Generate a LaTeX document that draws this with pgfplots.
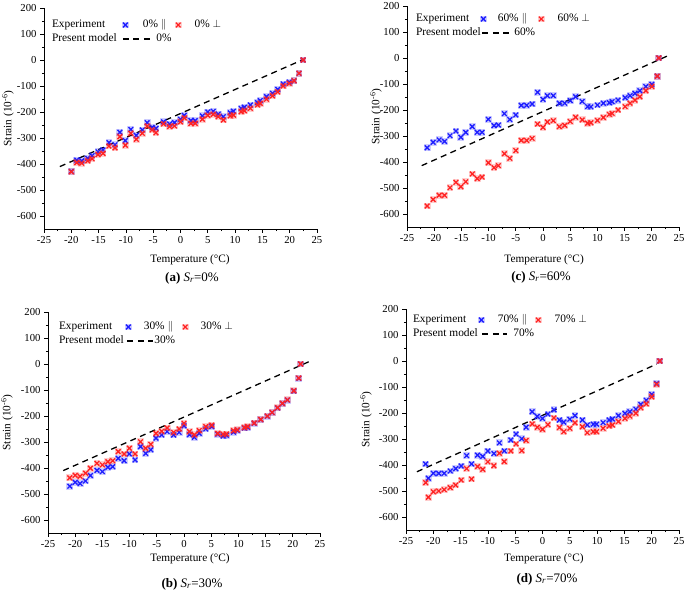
\documentclass[border=0pt]{standalone}
\usepackage{fontspec}
\setmainfont{Liberation Serif}
\usepackage{pgfplots}
\usepackage{pgfplotstable}
\pgfplotsset{compat=1.18}
\definecolor{bl}{RGB}{30,30,255}
\definecolor{rd}{RGB}{255,35,35}

\pgfdeclareplotmark{hx}{%
  \pgfpathrectangle{\pgfqpoint{-1.45\pgfplotmarksize}{-1.45\pgfplotmarksize}}{\pgfqpoint{2.9\pgfplotmarksize}{2.9\pgfplotmarksize}}%
  \pgfsetfillopacity{0.22}\pgfusepath{fill}%
  \pgfsetfillopacity{1}%
  \pgfpathmoveto{\pgfqpoint{-\pgfplotmarksize}{-\pgfplotmarksize}}\pgfpathlineto{\pgfqpoint{\pgfplotmarksize}{\pgfplotmarksize}}%
  \pgfpathmoveto{\pgfqpoint{-\pgfplotmarksize}{\pgfplotmarksize}}\pgfpathlineto{\pgfqpoint{\pgfplotmarksize}{-\pgfplotmarksize}}%
  \pgfusepathqstroke}

\pgfplotstableread{
T par perp
-20.0 -428 -430
-19.0 -385 -395
-18.1 -388 -397
-17.0 -378 -388
-16.2 -368 -380
-15.1 -353 -364
-14.2 -346 -359
-13.1 -318 -331
-12.0 -326 -338
-11.1 -278 -295
-10.1 -310 -328
-9.1 -267 -282
-8.1 -290 -305
-7.0 -269 -282
-6.1 -241 -254
-5.2 -259 -269
-4.5 -263 -280
-3.1 -238 -246
-2.0 -246 -256
-1.1 -241 -254
0.0 -228 -238
0.7 -213 -223
1.9 -233 -244
2.7 -233 -244
4.0 -215 -228
5.0 -200 -213
6.0 -197 -209
6.9 -208 -218
7.85 -218 -231
9.1 -203 -215
9.7 -197 -212
11.1 -186 -199
11.7 -182 -195
12.8 -173 -186
14.1 -164 -173
14.6 -156 -167
15.75 -141 -151
16.85 -128 -138
17.8 -113 -123
18.8 -92 -100
19.9 -85 -90
20.8 -80 -80
21.7 -51 -51
22.45 0 0
}\dataA

\pgfplotstableread{
T par perp
-21.0 -470 -438
-20.0 -455 -428
-19.1 -460 -432
-18.1 -450 -420
-17.2 -429 -401
-16.0 -409 -382
-15.0 -414 -388
-14.0 -397 -376
-13.1 -395 -372
-12.1 -363 -337
-11.0 -372 -346
-10.05 -346 -324
-9.0 -369 -346
-8.0 -318 -299
-7.05 -344 -324
-6.1 -330 -309
-5.15 -285 -267
-4.1 -273 -259
-3.1 -260 -246
-1.9 -273 -263
-0.9 -263 -250
0.0 -238 -228
1.0 -272 -260
1.9 -282 -272
2.8 -267 -256
4.0 -250 -241
5.1 -241 -235
6.2 -270 -267
7.2 -277 -270
7.8 -274 -269
9.1 -262 -256
9.8 -256 -253
11.1 -246 -244
11.7 -244 -240
12.9 -228 -227
14.1 -214 -213
15.3 -201 -200
16.2 -187 -186
17.2 -169 -168
18.1 -152 -151
19.0 -139 -138
20.2 -104 -103
21.1 -55 -54
21.45 0 0
}\dataB

\pgfplotstableread{
T par perp
-21.3 -345 -569
-20.2 -324 -544
-19.1 -315 -528
-18.1 -321 -528
-17.1 -299 -499
-16.0 -281 -478
-15.1 -305 -495
-14.2 -286 -476
-13.0 -264 -446
-12.1 -286 -464
-11.2 -286 -458
-10.05 -236 -403
-9.0 -260 -422
-8.2 -258 -414
-7.1 -214 -368
-6.1 -237 -386
-5.0 -219 -356
-4.0 -182 -317
-3.0 -182 -317
-2.0 -177 -309
-1.0 -132 -254
0.0 -159 -267
0.8 -145 -246
1.9 -145 -241
3.0 -174 -264
4.0 -174 -259
5.0 -164 -244
6.0 -149 -228
7.2 -167 -238
8.2 -187 -251
8.8 -188 -249
10.0 -181 -240
11.1 -174 -229
12.2 -172 -217
12.7 -168 -213
13.8 -162 -200
15.1 -153 -187
16.0 -145 -174
16.9 -136 -162
17.8 -126 -149
18.9 -110 -126
20.0 -101 -110
21.0 -70 -70
21.3 0 0
}\dataC

\pgfplotstableread{
T par perp
-21.4 -396 -468
-20.9 -451 -524
-20.0 -432 -503
-19.0 -432 -500
-18.0 -432 -495
-16.9 -423 -487
-15.9 -414 -477
-14.9 -404 -458
-13.9 -364 -414
-13.0 -396 -454
-11.9 -362 -406
-10.95 -367 -417
-10.0 -346 -388
-8.9 -356 -403
-7.9 -315 -355
-7.0 -346 -387
-5.8 -304 -346
-4.85 -281 -319
-3.8 -299 -345
-3.0 -255 -306
-1.9 -195 -242
-0.95 -213 -255
0.0 -221 -263
1.0 -204 -245
2.1 -188 -219
3.1 -227 -256
3.9 -235 -272
5.0 -224 -259
5.95 -210 -238
7.3 -227 -253
8.2 -246 -276
9.3 -243 -272
9.9 -243 -272
11.1 -237 -259
12.2 -227 -250
12.8 -223 -246
13.9 -210 -233
15.1 -201 -221
16.0 -195 -212
17.1 -185 -201
18.0 -167 -180
19.0 -151 -165
20.0 -128 -138
20.9 -86 -90
21.5 0 0
}\dataD

\pgfplotsset{
  panel/.style={
    scale only axis, width=273pt, height=221pt, anchor=south west,
    xmin=-25, xmax=25, ymin=-650, ymax=200,
    axis x line*=bottom, axis y line*=left,
    axis line style={line width=0.9pt,-},
    xtick={-25,-20,...,25}, ytick={-600,-500,...,200},
    minor x tick num=1, minor y tick num=1,
    tick align=outside, major tick length=4pt, minor tick length=2.2pt,
    every tick/.style={line width=0.8pt,black},
    /pgf/number format/assume math mode=true,
    tick label style={font=\fontsize{10.7}{12}\selectfont},
    label style={font=\fontsize{11.3}{13}\selectfont},
    xlabel={Temperature (°C)},
    ylabel={Strain (10\textsuperscript{-6})},
    clip=false,
    legend columns=3,
    legend style={draw=none, fill=none, inner sep=0pt, outer sep=0pt,
      at={(axis description cs:0,1)}, anchor=north west,
      font=\fontsize{11.4}{13}\selectfont,
      nodes={inner sep=0pt, text height=8pt, text depth=3pt},
      cells={anchor=west}, row sep=3pt},
  },
  labpos/.style n args={4}{
    xlabel style={at={([yshift=#2]axis description cs:#1,0)}, anchor=center},
    ylabel style={at={([xshift=#3]axis description cs:0,0.5)}, anchor=center},
  },
  legpos/.style n args={4}{
    legend style={xshift=#1, yshift=#2,
      /tikz/column 3/.style={column sep=#3},
      /tikz/column 5/.style={column sep=#4}},
  },
  bser/.style={only marks, mark=hx, mark size=2.35pt, line width=1.35pt, color=bl},
  rser/.style={only marks, mark=hx, mark size=2.35pt, line width=1.35pt, color=rd},
  mser/.style={black, line width=1.3pt, dash pattern=on 6pt off 4.5pt},
  markleg/.style={legend image code/.code={\pgfpathrectangle{\pgfqpoint{-3pt}{-3pt}}{\pgfqpoint{6pt}{6pt}}\pgfusepath{discard}\draw[##1] plot coordinates {(0pt,0pt)};}},
  dashleg/.style 2 args={legend image code/.code={\begin{pgfinterruptboundingbox}\draw[##1] (#1,0pt) -- (#2,0pt);\end{pgfinterruptboundingbox}}},
}

\begin{document}
\begin{tikzpicture}
\useasboundingbox (0,0) rectangle (685pt,591pt);

% (a)
\begin{axis}[panel, at={(44pt,362pt)}, labpos={0.535}{-31pt}{-36pt}{}, legpos={8pt}{-11.5pt}{14pt}{13pt}]
\addlegendimage{empty legend}\addlegendentry{\makebox[70pt][l]{Experiment}}
\addlegendimage{bser, markleg}\addlegendentry{\makebox[32pt][l]{0\% $\parallel$}}
\addlegendimage{rser, markleg}\addlegendentry{0\% $\perp$}
\addlegendimage{empty legend}\addlegendentry{\makebox[70pt][l]{Present model}}
\addlegendimage{mser, dashleg={-2.5pt}{28pt}}\addlegendentry{\makebox[0pt][l]{\hspace*{13pt}0\%}}
\addplot[mser, forget plot] coordinates {(-22.1,-410) (22.5,2)};
\addplot[bser, forget plot] table[x=T,y=par] {\dataA};
\addplot[rser, forget plot] table[x=T,y=perp] {\dataA};
\end{axis}

% (c)
\begin{axis}[panel, at={(407pt,364pt)}, width=272pt, labpos={0.504}{-33pt}{-31pt}{}, legpos={9pt}{-7.5pt}{11pt}{13pt}]
\addlegendimage{empty legend}\addlegendentry{\makebox[64pt][l]{Experiment}}
\addlegendimage{bser, markleg}\addlegendentry{\makebox[40pt][l]{60\% $\parallel$}}
\addlegendimage{rser, markleg}\addlegendentry{60\% $\perp$}
\addlegendimage{empty legend}\addlegendentry{\makebox[64pt][l]{Present model}}
\addlegendimage{mser, dashleg={-1pt}{27pt}}\addlegendentry{\makebox[0pt][l]{\hspace*{16pt}60\%}}
\addplot[mser, forget plot] coordinates {(-22.3,-414) (22.9,8)};
\addplot[bser, forget plot] table[x=T,y=par] {\dataC};
\addplot[rser, forget plot] table[x=T,y=perp] {\dataC};
\end{axis}

% (b)
\begin{axis}[panel, at={(48pt,58pt)}, width=272pt, labpos={0.522}{-26pt}{-41pt}{}, legpos={11pt}{-9.5pt}{12pt}{12pt}]
\addlegendimage{empty legend}\addlegendentry{\makebox[66pt][l]{Experiment}}
\addlegendimage{bser, markleg}\addlegendentry{\makebox[38pt][l]{30\% $\parallel$}}
\addlegendimage{rser, markleg}\addlegendentry{30\% $\perp$}
\addlegendimage{empty legend}\addlegendentry{\makebox[66pt][l]{Present model}}
\addlegendimage{mser, dashleg={-1pt}{25pt}}\addlegendentry{\makebox[0pt][l]{\hspace*{10pt}30\%}}
\addplot[mser, forget plot] coordinates {(-22.2,-410) (23.2,11)};
\addplot[bser, forget plot] table[x=T,y=par] {\dataB};
\addplot[rser, forget plot] table[x=T,y=perp] {\dataB};
\end{axis}

% (d)
\begin{axis}[panel, at={(406pt,61pt)}, labpos={0.505}{-29pt}{-40pt}{}, legpos={7pt}{-5.5pt}{13pt}{13pt}]
\addlegendimage{empty legend}\addlegendentry{\makebox[65pt][l]{Experiment}}
\addlegendimage{bser, markleg}\addlegendentry{\makebox[37pt][l]{70\% $\parallel$}}
\addlegendimage{rser, markleg}\addlegendentry{70\% $\perp$}
\addlegendimage{empty legend}\addlegendentry{\makebox[65pt][l]{Present model}}
\addlegendimage{mser, dashleg={1pt}{26pt}}\addlegendentry{\makebox[0pt][l]{\hspace*{15pt}70\%}}
\addplot[mser, forget plot] coordinates {(-23,-426) (20.9,-12)};
\addplot[bser, forget plot] table[x=T,y=par] {\dataD};
\addplot[rser, forget plot] table[x=T,y=perp] {\dataD};
\end{axis}

\begin{scope}[every node/.style={font=\fontsize{13}{15}\selectfont, inner sep=0pt}]
\node at (192pt,313pt) {\textbf{(a)} \textit{S}\textsubscript{\textit{r}}=0\%};
\node at (541pt,314pt) {\textbf{(c)} \textit{S}\textsubscript{\textit{r}}=60\%};
\node at (192pt,7pt) {\textbf{(b)} \textit{S}\textsubscript{\textit{r}}=30\%};
\node at (547pt,12pt) {\textbf{(d)} \textit{S}\textsubscript{\textit{r}}=70\%};
\end{scope}
\end{tikzpicture}
\end{document}
